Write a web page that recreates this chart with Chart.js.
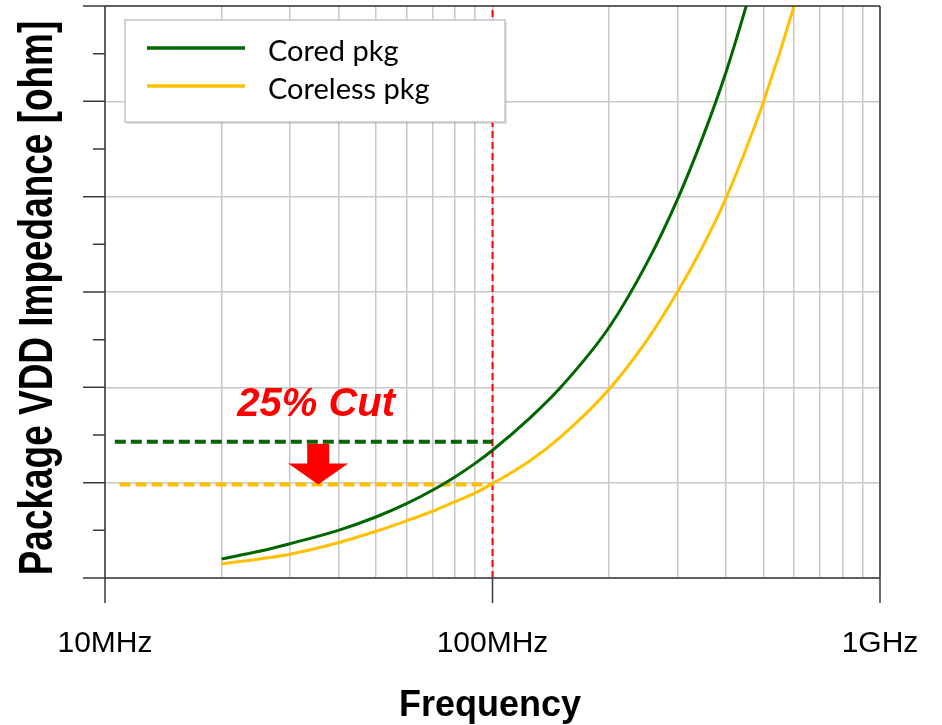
<!DOCTYPE html>
<html>
<head>
<meta charset="utf-8">
<script src="https://cdn.jsdelivr.net/npm/chart.js@4.4.1/dist/chart.umd.min.js"></script>
<style>
  html, body { margin: 0; padding: 0; background: #fff; }
</style>
</head>
<body>
<canvas id="chart" width="942" height="725"></canvas>
<script>
// frequency points (MHz) and impedance (y axis unlabeled, 0..6 units)
const freqMHz = [20, 25, 30, 40, 50, 60, 70, 80, 90, 100, 125, 150, 200, 250, 300, 350, 400, 450, 500, 600, 700];
const coredZ = [0.20, 0.28, 0.36, 0.50, 0.64, 0.78, 0.92, 1.06, 1.20, 1.34, 1.68, 2.00, 2.63, 3.30, 3.97, 4.64, 5.30, 5.98, 6.65, 8.0, 9.3];
const corelessZ = [0.15, 0.20, 0.25, 0.37, 0.49, 0.60, 0.70, 0.80, 0.89, 0.99, 1.23, 1.48, 1.98, 2.49, 3.00, 3.49, 3.98, 4.49, 4.99, 6.0, 7.0];

// reference levels at 100MHz
const coredRefFreqMHz = [10.6, 100];
const coredRefZ = [1.43, 1.43];
const corelessRefFreqMHz = [10.9, 100];
const corelessRefZ = [0.98, 0.98];
const markerFreqMHz = [100, 100];
const markerZ = [0, 6];

const xTickLabels = ["10MHz", "100MHz", "1GHz"];
const xTickValues = [1e7, 1e8, 1e9];
const seriesNames = ["Cored pkg", "Coreless pkg"];
const cutLabel = "25% Cut";
const arrowFreqMHz = 35.5;

const GREEN = "#006600";
const YELLOW = "#FFC000";
const RED = "#FF0000";
const AXIS = "#3a3a3a";

const toPts = (fs, zs) => fs.map((f, i) => ({ x: f * 1e6, y: zs[i] }));

const overlay = {
  id: "overlay",
  afterDatasetsDraw(chart) {
    const ctx = chart.ctx;
    const xs = chart.scales.x;
    const ys = chart.scales.y;
    const left = xs.left, right = xs.right, top = ys.top, bottom = ys.bottom;

    ctx.save();

    // axes + frame
    ctx.strokeStyle = AXIS;
    ctx.lineWidth = 1.5;
    ctx.beginPath();
    ctx.moveTo(left, top); ctx.lineTo(left, bottom + 25);
    ctx.moveTo(right, top); ctx.lineTo(right, bottom + 25);
    ctx.moveTo(left - 22, bottom); ctx.lineTo(right, bottom);
    ctx.moveTo(left - 22, top); ctx.lineTo(right, top);
    const xm = xs.getPixelForValue(1e8);
    ctx.moveTo(xm, bottom); ctx.lineTo(xm, bottom + 25);
    for (let v = 0.5; v < 6; v += 0.5) {
      const py = ys.getPixelForValue(v);
      const len = Number.isInteger(v) ? 22 : 12;
      ctx.moveTo(left - len, py); ctx.lineTo(left, py);
    }
    ctx.stroke();

    // x tick labels
    ctx.fillStyle = "#000";
    ctx.font = "30px 'Liberation Sans', Arial, sans-serif";
    ctx.textAlign = "center";
    ctx.textBaseline = "alphabetic";
    xTickValues.forEach((v, i) => {
      ctx.fillText(xTickLabels[i], xs.getPixelForValue(v), 652);
    });

    // axis titles
    ctx.font = "bold 36px 'Liberation Sans', Arial, sans-serif";
    ctx.fillText("Frequency", 490, 716);

    ctx.save();
    ctx.translate(52, 298);
    ctx.rotate(-Math.PI / 2);
    ctx.scale(0.77, 1);
    ctx.font = "bold 48px 'Liberation Sans', Arial, sans-serif";
    ctx.fillText("Package VDD Impedance [ohm]", 0, 0);
    ctx.restore();

    // arrow between the reference levels
    const ax = xs.getPixelForValue(arrowFreqMHz * 1e6);
    const yTop = ys.getPixelForValue(coredRefZ[0]) + 2;
    const yTip = ys.getPixelForValue(corelessRefZ[0]);
    const headH = 21;
    ctx.fillStyle = RED;
    ctx.beginPath();
    ctx.moveTo(ax - 11, yTop);
    ctx.lineTo(ax + 11, yTop);
    ctx.lineTo(ax + 11, yTip - headH);
    ctx.lineTo(ax + 30, yTip - headH);
    ctx.lineTo(ax, yTip);
    ctx.lineTo(ax - 30, yTip - headH);
    ctx.lineTo(ax - 11, yTip - headH);
    ctx.closePath();
    ctx.fill();

    ctx.font = "italic bold 40px 'Liberation Sans', Arial, sans-serif";
    ctx.textAlign = "center";
    ctx.fillText(cutLabel, ax - 2, yTop - 28);

    // legend
    const lx = 125, ly = 20, lw = 380, lh = 102;
    ctx.fillStyle = "rgba(0,0,0,0.12)";
    ctx.fillRect(lx + 2, ly + 2, lw, lh);
    ctx.fillStyle = "#fff";
    ctx.fillRect(lx, ly, lw, lh);
    ctx.strokeStyle = "#c4c4c4";
    ctx.lineWidth = 1.5;
    ctx.strokeRect(lx, ly, lw, lh);
    const cols = [GREEN, YELLOW];
    const rows = [48, 86];
    ctx.font = "29px Lato, 'Open Sans', sans-serif";
    ctx.textAlign = "left";
    rows.forEach((ry, i) => {
      ctx.strokeStyle = cols[i];
      ctx.lineWidth = 3.5;
      ctx.beginPath();
      ctx.moveTo(147, ry); ctx.lineTo(245, ry);
      ctx.stroke();
      ctx.fillStyle = "#000";
      ctx.fillText(seriesNames[i], 268, ry + 13);
    });

    ctx.restore();
  }
};

const decadeTicks = [];
for (let e = 7; e < 9; e++) {
  for (let m = 1; m <= 9; m++) decadeTicks.push({ value: m * Math.pow(10, e) });
}
decadeTicks.push({ value: 1e9 });

new Chart(document.getElementById("chart"), {
  type: "line",
  data: {
    datasets: [
      {
        label: seriesNames[0],
        data: toPts(freqMHz, coredZ),
        borderColor: GREEN,
        borderWidth: 3,
        pointRadius: 0,
        cubicInterpolationMode: "monotone"
      },
      {
        label: seriesNames[1],
        data: toPts(freqMHz, corelessZ),
        borderColor: YELLOW,
        borderWidth: 3,
        pointRadius: 0,
        cubicInterpolationMode: "monotone"
      },
      {
        label: "cored ref",
        data: toPts(coredRefFreqMHz, coredRefZ),
        borderColor: GREEN,
        borderWidth: 4,
        borderDash: [11, 5],
        pointRadius: 0
      },
      {
        label: "coreless ref",
        data: toPts(corelessRefFreqMHz, corelessRefZ),
        borderColor: YELLOW,
        borderWidth: 4,
        borderDash: [11, 5],
        pointRadius: 0
      },
      {
        label: "100MHz",
        data: toPts(markerFreqMHz, markerZ),
        borderColor: RED,
        borderWidth: 2,
        borderDash: [7, 4],
        pointRadius: 0
      }
    ]
  },
  options: {
    responsive: false,
    animation: false,
    layout: { padding: { left: 105, top: 6, right: 62, bottom: 147 } },
    plugins: {
      legend: { display: false },
      tooltip: { enabled: false }
    },
    scales: {
      x: {
        type: "logarithmic",
        min: 1e7,
        max: 1e9,
        afterBuildTicks: (axis) => { axis.ticks = decadeTicks.map(t => ({ value: t.value })); },
        ticks: { display: false },
        grid: { color: "#c8c8c8", lineWidth: 1.5, drawTicks: false },
        border: { display: false }
      },
      y: {
        min: 0,
        max: 6,
        ticks: { display: false, stepSize: 1 },
        grid: { color: "#c8c8c8", lineWidth: 1.5, drawTicks: false },
        border: { display: false }
      }
    }
  },
  plugins: [overlay]
});
</script>
</body>
</html>
